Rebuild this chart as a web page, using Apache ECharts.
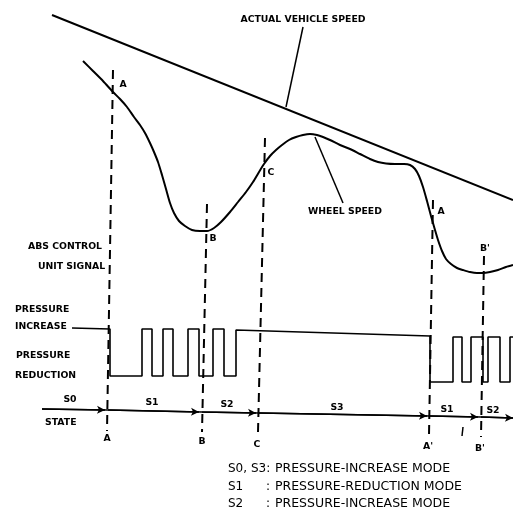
<!DOCTYPE html>
<html>
<head>
<meta charset="utf-8">
<script src="https://cdn.jsdelivr.net/npm/echarts@6/dist/echarts.min.js"></script>
<style>
html,body{margin:0;padding:0;background:#fff;}
#c{width:513px;height:513px;}
</style>
</head>
<body>
<div id="c"></div>
<script>
// Diagram units: x = time, y = depth on the sheet (downwards)
const vehicleSpeed = [[52,15],[513,200]];
const wheelSpeed = [[83,61],[93,71],[103,81],[113,92],[120,99],[127,107],[134,117],[140,125],[145,133],[150,143],[154,152],[158,162],[162,175],[166,189],[170,203],[174,213],[179,221],[185,226],[192,230],[200,231],[207,231],[214,228],[221,222],[230,212],[238,202],[246,192],[253,182],[259,172],[264,164],[270,156],[276,150],[282,145],[289,140],[296,137],[303,135],[310,134],[317,135],[323,137],[330,140],[340,145],[350,149],[360,154],[370,159],[378,162],[386,163.5],[395,164],[404,164],[410,165],[415,169],[419,176],[423,187],[427,201],[431,216],[435,230],[438,240],[442,251],[446,259],[451,264],[457,268],[463,270],[470,272],[477,273],[483,273],[490,272],[498,270],[506,267],[513,265]];
const vehicleLeader = [[303,27],[286,107]];
const wheelLeader = [[315,137],[343,203]];
const signal = [[72,328],[110,329],[110,376],[142,376],[142,329],[152,329],[152,376],[163,376],[163,329],[173,329],[173,376],[188,376],[188,329],[199,329],[199,376],[213,376],[213,329],[224,329],[224,376],[236,376],[236,330],[430,336],[430,382],[453,382],[453,337],[462,337],[462,382],[471,382],[471,337],[483,337],[483,382],[488,382],[488,337],[500,337],[500,382],[510,382],[510,337],[513,337]];
const markerA = [[113,70],[107,431]];
const markerB = [[207,204],[202,432]];
const markerC = [[265,138],[258,432]];
const markerA2 = [[433,200],[429,435]];
const markerB2 = [[484,256],[481,437]];
const strayTick = [[463,427],[462,436]];
const stateBounds = [42,108,202,259,430,481,513];
const stateLevel = [409,410,412,413,416,417,418];
const stateNames = ['S0','S1','S2','S3','S1','S2'];

const chart = echarts.init(document.getElementById('c'));
const black = '#000';
function line(data, width, dashed){
  return {type:'line', data:data, symbol:'none', silent:true, animation:false,
    lineStyle:{color:black, width:width, type: dashed ? [9,6] : 'solid'}};
}
const stateMarks = [];
for (let i = 0; i < stateNames.length; i++) {
  const x1 = stateBounds[i+1] - (i === stateNames.length-1 ? 0 : 3);
  const f = (x1 - stateBounds[i]) / (stateBounds[i+1] - stateBounds[i]);
  const y1 = stateLevel[i] + f * (stateLevel[i+1] - stateLevel[i]);
  stateMarks.push([{coord:[stateBounds[i], stateLevel[i]]},{coord:[x1, y1]}]);
}
const stateLine = stateBounds.map((x,i)=>[x, stateLevel[i]]);

const F = 'DejaVu Sans';
function t(text, x, y, opts){
  opts = opts || {};
  return {type:'text', x:x, y:y, silent:true, style:{text:text, fill:black,
    font:(opts.weight||'bold') + ' ' + (opts.size||9.3) + 'px "' + F + '"',
    textAlign:opts.align||'center', textVerticalAlign:'middle'}};
}
const graphics = [
  t('ACTUAL VEHICLE SPEED', 303, 20),
  t('WHEEL SPEED', 345, 212),
  t('A', 123, 85), t('B', 213, 239), t('C', 271, 173), t('A', 441, 212), t("B'", 485, 249),
  t('ABS CONTROL', 28, 247, {align:'left'}),
  t('UNIT SIGNAL', 38, 267, {align:'left'}),
  t('PRESSURE', 15, 310, {align:'left'}),
  t('INCREASE', 15, 327, {align:'left'}),
  t('PRESSURE', 16, 356, {align:'left'}),
  t('REDUCTION', 15, 376, {align:'left'}),
  t('S0', 70, 400), t('STATE', 45, 423, {align:'left'}),
  t('S1', 152, 403), t('S2', 227, 405), t('S3', 337, 408), t('S1', 447, 410), t('S2', 493, 411),
  t('A', 107, 439), t('B', 202, 442), t('C', 257, 445), t("A'", 428, 447), t("B'", 480, 449),
  t('S0, S3:', 228, 469, {align:'left', weight:'normal', size:12}),
  t('PRESSURE-INCREASE MODE', 275, 469, {align:'left', weight:'normal', size:12.5}),
  t('S1', 228, 487, {align:'left', weight:'normal', size:12}),
  t(':', 266, 487, {align:'left', weight:'normal', size:12}),
  t('PRESSURE-REDUCTION MODE', 275, 487, {align:'left', weight:'normal', size:12.5}),
  t('S2', 228, 504, {align:'left', weight:'normal', size:12}),
  t(':', 266, 504, {align:'left', weight:'normal', size:12}),
  t('PRESSURE-INCREASE MODE', 275, 504, {align:'left', weight:'normal', size:12.5})
];

chart.setOption({
  animation:false,
  backgroundColor:'#fff',
  grid:{left:0,right:0,top:0,bottom:0},
  xAxis:{type:'value', min:0, max:513, show:false},
  yAxis:{type:'value', min:0, max:513, inverse:true, show:false},
  graphic:graphics,
  series:[
    line(vehicleSpeed, 2),
    Object.assign(line(wheelSpeed, 2), {smooth:0.25}),
    line(vehicleLeader, 1.5),
    line(wheelLeader, 1.5),
    line(signal, 1.6),
    line(markerA, 2, true),
    line(markerB, 2, true),
    line(markerC, 2, true),
    line(markerA2, 2, true),
    line(markerB2, 2, true),
    line(strayTick, 1.5),
    Object.assign(line(stateLine, 1.5), {
      markLine:{silent:true, animation:false, symbol:['none','arrow'], symbolSize:[6,8],
        label:{show:false}, lineStyle:{color:black, width:1.5, type:'solid'},
        data:stateMarks}
    })
  ]
});
</script>
</body>
</html>
